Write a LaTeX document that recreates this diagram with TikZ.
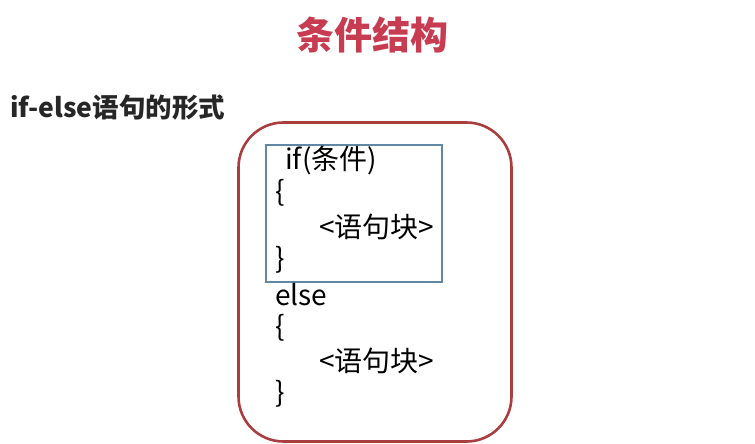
\documentclass[tikz,border=0pt]{standalone}
\usepackage{fontspec}
\setmainfont{Noto Sans CJK SC}
\usetikzlibrary{positioning}
\definecolor{titlered}{RGB}{200,60,82}
\definecolor{boxred}{RGB}{170,62,62}
\definecolor{boxblue}{RGB}{96,136,166}

\begin{document}
\begin{tikzpicture}[x=1pt, y=-1pt, inner sep=0pt, font=\fontsize{28}{32}\selectfont]
    \useasboundingbox (0,0) rectangle (755,444);
    % Headings
    \node (title) at (372,35) [text=titlered, font=\fontsize{38}{44}\selectfont\bfseries] {条件结构};
    \node (form) at (10,107) [anchor=west, text=black!85, font=\fontsize{26.5}{30}\selectfont\bfseries] {if-else语句的形式};

    % Boxes
    \node (outer) at (375,282) [draw=boxred, line width=2.6pt, rounded corners=45pt, minimum width=273pt, minimum height=319pt] {};
    \node (ifpart) at (354,213.5) [draw=boxblue, line width=1.3pt, minimum width=176pt, minimum height=137pt] {};

    % Code lines
    \node (ifline) at (285,160) [anchor=west] {if(条件)};
    \node (open1) at (275,193) [anchor=west] {\{};
    \node (block1) at (319,227) [anchor=west] {<语句块>};
    \node (close1) at (275,260) [anchor=west] {\}};
    \node (elseline) at (275,295) [anchor=west] {else};
    \node (open2) at (275,328) [anchor=west] {\{};
    \node (block2) at (319,361) [anchor=west] {<语句块>};
    \node (close2) at (275,394) [anchor=west] {\}};
\end{tikzpicture}
\end{document}
